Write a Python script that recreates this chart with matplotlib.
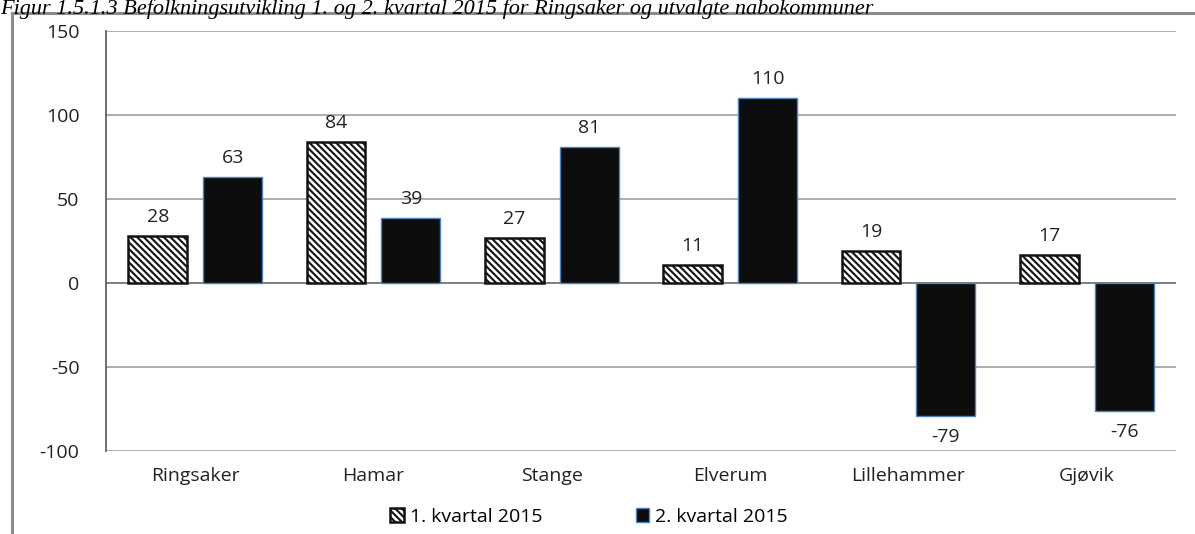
import matplotlib.pyplot as plt
import numpy as np
from matplotlib.lines import Line2D

kommuner = ["Ringsaker", "Hamar", "Stange", "Elverum", "Lillehammer", "Gjøvik"]
kvartal1 = [28, 84, 27, 11, 19, 17]
kvartal2 = [63, 39, 81, 110, -79, -76]
serier = ["1. kvartal 2015", "2. kvartal 2015"]
yticks = [-100, -50, 0, 50, 100, 150]

plt.rcParams['font.family'] = ['Open Sans', 'DejaVu Sans']
plt.rcParams['hatch.linewidth'] = 1.5

fig = plt.figure(figsize=(11.95, 5.34), dpi=100)
ax = fig.add_axes([0.0887, 0.155, 0.8953, 0.787])

x = np.arange(len(kommuner))
w = 0.33
b1 = ax.bar(x - 0.21, kvartal1, w, color="white", edgecolor="#111111",
            hatch="\\" * 5, linewidth=1.8, label=serier[0], zorder=3)
b2 = ax.bar(x + 0.21, kvartal2, w, color="#0d0d0d", edgecolor="#4f81bd",
            linewidth=1.0, label=serier[1], zorder=3)

for bars, vals in [(b1, kvartal1), (b2, kvartal2)]:
    for r, v in zip(bars, vals):
        off = 19 if v >= 0 else -21
        ax.annotate(str(v), (r.get_x() + r.get_width() / 2, v),
                    xytext=(0, off), textcoords="offset pixels",
                    ha="center", va="center", fontsize=14, color="#222222")

ax.set_xlim(-0.5, len(kommuner) - 0.5)
ax.set_ylim(-100, 150)
ax.set_yticks(yticks)
ax.set_yticklabels([str(t) for t in yticks], fontsize=14, color="#222222")
ax.set_xticks(x)
ax.set_xticklabels(kommuner, fontsize=14, color="#222222")
ax.tick_params(axis="both", length=0)
ax.tick_params(axis="y", pad=19)
ax.tick_params(axis="x", pad=11)

ax.yaxis.grid(True, color="#a0a0a0", linewidth=1.2, zorder=0)
ax.axhline(0, color="#808080", linewidth=1.4, zorder=2)
for s in ["top", "right", "bottom"]:
    ax.spines[s].set_visible(False)
ax.spines["left"].set_color("#555555")
ax.spines["left"].set_linewidth(1.2)

fig.legend(handles=[b1, b2], labels=serier, loc="center", ncol=2,
           bbox_to_anchor=(589 / 1195, 1 - 517 / 534), frameon=False,
           fontsize=14, handlelength=0.7, handleheight=0.7,
           handletextpad=0.3, columnspacing=4.8)

# ramme rundt figuren
fig.add_artist(Line2D([12 / 1195, 1], [1 - 13 / 534] * 2, color="#8c8c8c", lw=2.2))
fig.add_artist(Line2D([12 / 1195] * 2, [0, 1 - 13 / 534], color="#8c8c8c", lw=2.2))

fig.text(0.0, 1 - 14 / 534,
         "Figur 1.5.1.3 Befolkningsutvikling 1. og 2. kvartal 2015 for Ringsaker og utvalgte nabokommuner",
         family="Liberation Serif", style="italic", fontsize=16, va="baseline", ha="left")

fig.savefig("out.png", dpi=100)
